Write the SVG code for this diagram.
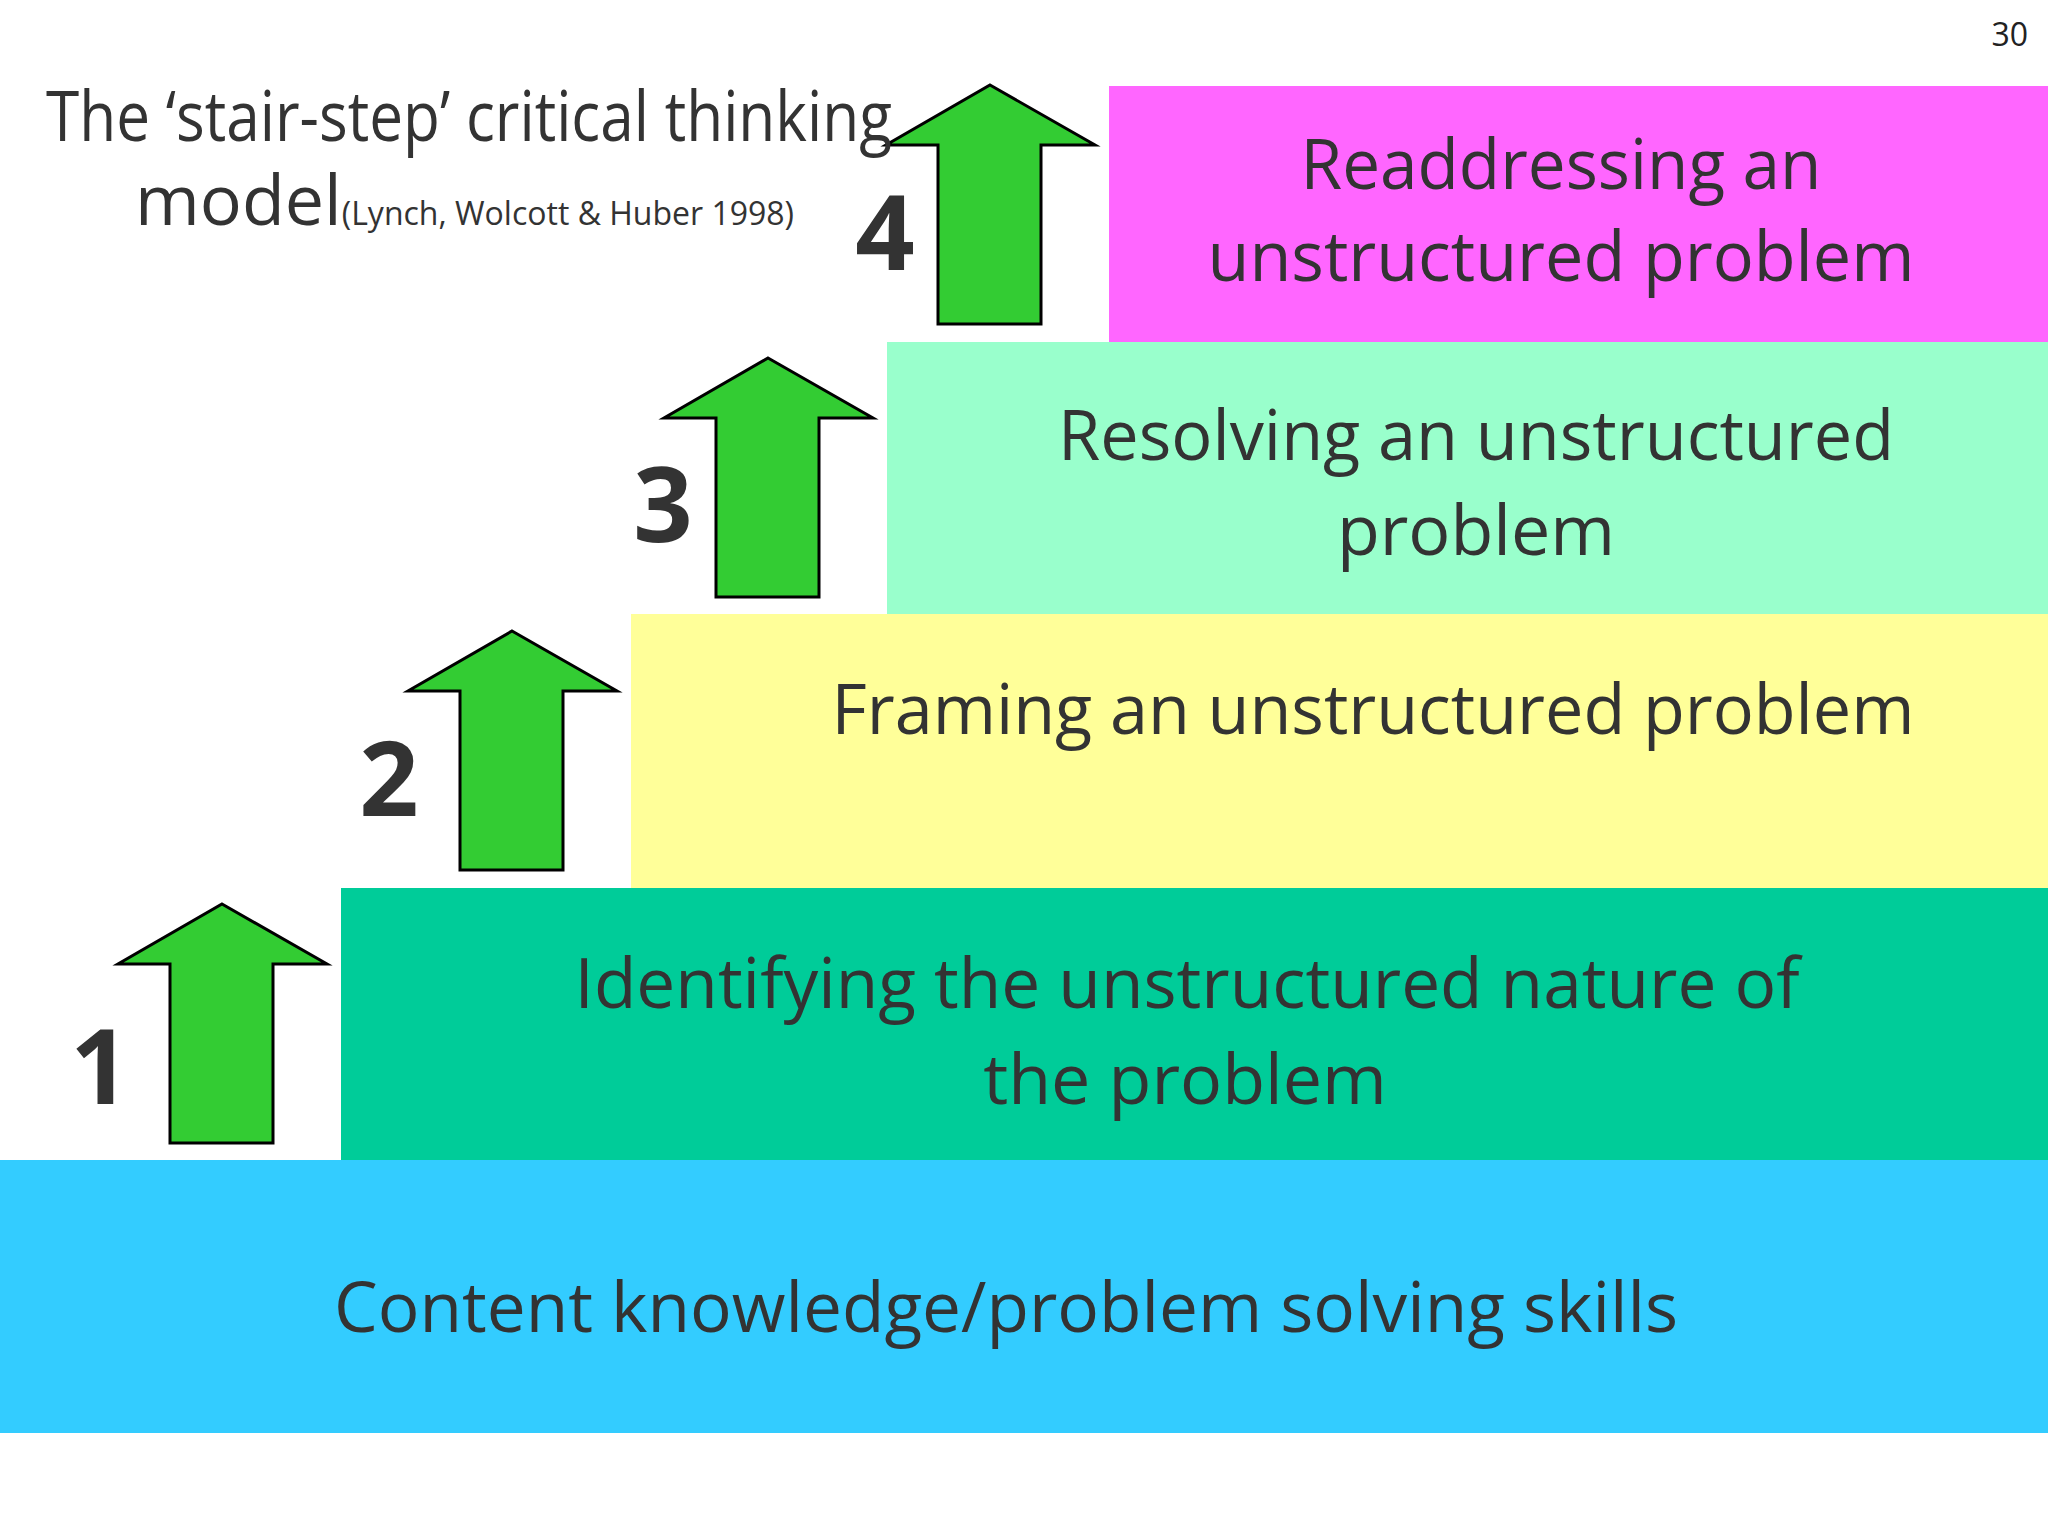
<svg xmlns="http://www.w3.org/2000/svg" xmlns:xlink="http://www.w3.org/1999/xlink" width="2048" height="1536" viewBox="0 0 2048 1536">
<style>
.t{font-family:"Open Sans","Liberation Sans",sans-serif;fill:#333;text-anchor:middle;font-size:70px}
.n{font-family:"Open Sans","Liberation Sans",sans-serif;fill:#333;font-weight:bold;font-size:104px;text-anchor:middle}
.a{fill:#33CC33;stroke:#000;stroke-width:3}
</style>
<defs>
<path id="arr" class="a" d="M0,0 L105,60 L51,60 L51,239 L-52,239 L-52,60 L-104,60 Z"/>
</defs>
<rect width="2048" height="1536" fill="#fff"/>
<g id="step0"><rect x="0" y="1160" width="2048" height="273" fill="#33CCFF"/>
<text class="t" x="1006" y="1332" textLength="1344" lengthAdjust="spacingAndGlyphs">Content knowledge/problem solving skills</text></g>
<g id="step1"><rect x="341" y="888" width="1707" height="272" fill="#00CC99"/>
<text class="t" x="1187" y="1008" textLength="1225" lengthAdjust="spacingAndGlyphs">Identifying the unstructured nature of</text>
<text class="t" x="1185" y="1104">the problem</text></g>
<g id="step2"><rect x="631" y="614" width="1417" height="274" fill="#FFFF99"/>
<text class="t" x="1373" y="734" textLength="1083" lengthAdjust="spacingAndGlyphs">Framing an unstructured problem</text></g>
<g id="step3"><rect x="887" y="342" width="1161" height="272" fill="#99FFCC"/>
<text class="t" x="1476" y="460" textLength="836" lengthAdjust="spacingAndGlyphs">Resolving an unstructured</text>
<text class="t" x="1476" y="555">problem</text></g>
<g id="step4"><rect x="1109" y="86" width="939" height="256" fill="#FF66FF"/>
<text class="t" x="1561" y="189" textLength="521" lengthAdjust="spacingAndGlyphs">Readdressing an</text>
<text class="t" x="1561" y="281" textLength="707" lengthAdjust="spacingAndGlyphs">unstructured problem</text></g>
<g id="connectors">
<use xlink:href="#arr" transform="translate(222,904)"/>
<use xlink:href="#arr" transform="translate(512,631)"/>
<use xlink:href="#arr" transform="translate(768,358)"/>
<use xlink:href="#arr" transform="translate(990,85)"/>
</g>
<g id="numbers">
<text class="n" x="100" y="1104">1</text>
<text class="n" x="389" y="816">2</text>
<text class="n" x="663" y="542">3</text>
<text class="n" x="885" y="270">4</text>
</g>
<g id="title">
<text class="t" x="469" y="141" font-size="56" textLength="846" lengthAdjust="spacingAndGlyphs">The ‘stair-step’ critical thinking</text>
<text class="t" x="135" y="225" font-size="56" style="text-anchor:start">model<tspan font-size="32">(Lynch, Wolcott &amp; Huber 1998)</tspan></text>
</g>
<text x="2028" y="46" font-family="Open Sans, Liberation Sans, sans-serif" font-size="32" fill="#222" text-anchor="end">30</text>
</svg>
